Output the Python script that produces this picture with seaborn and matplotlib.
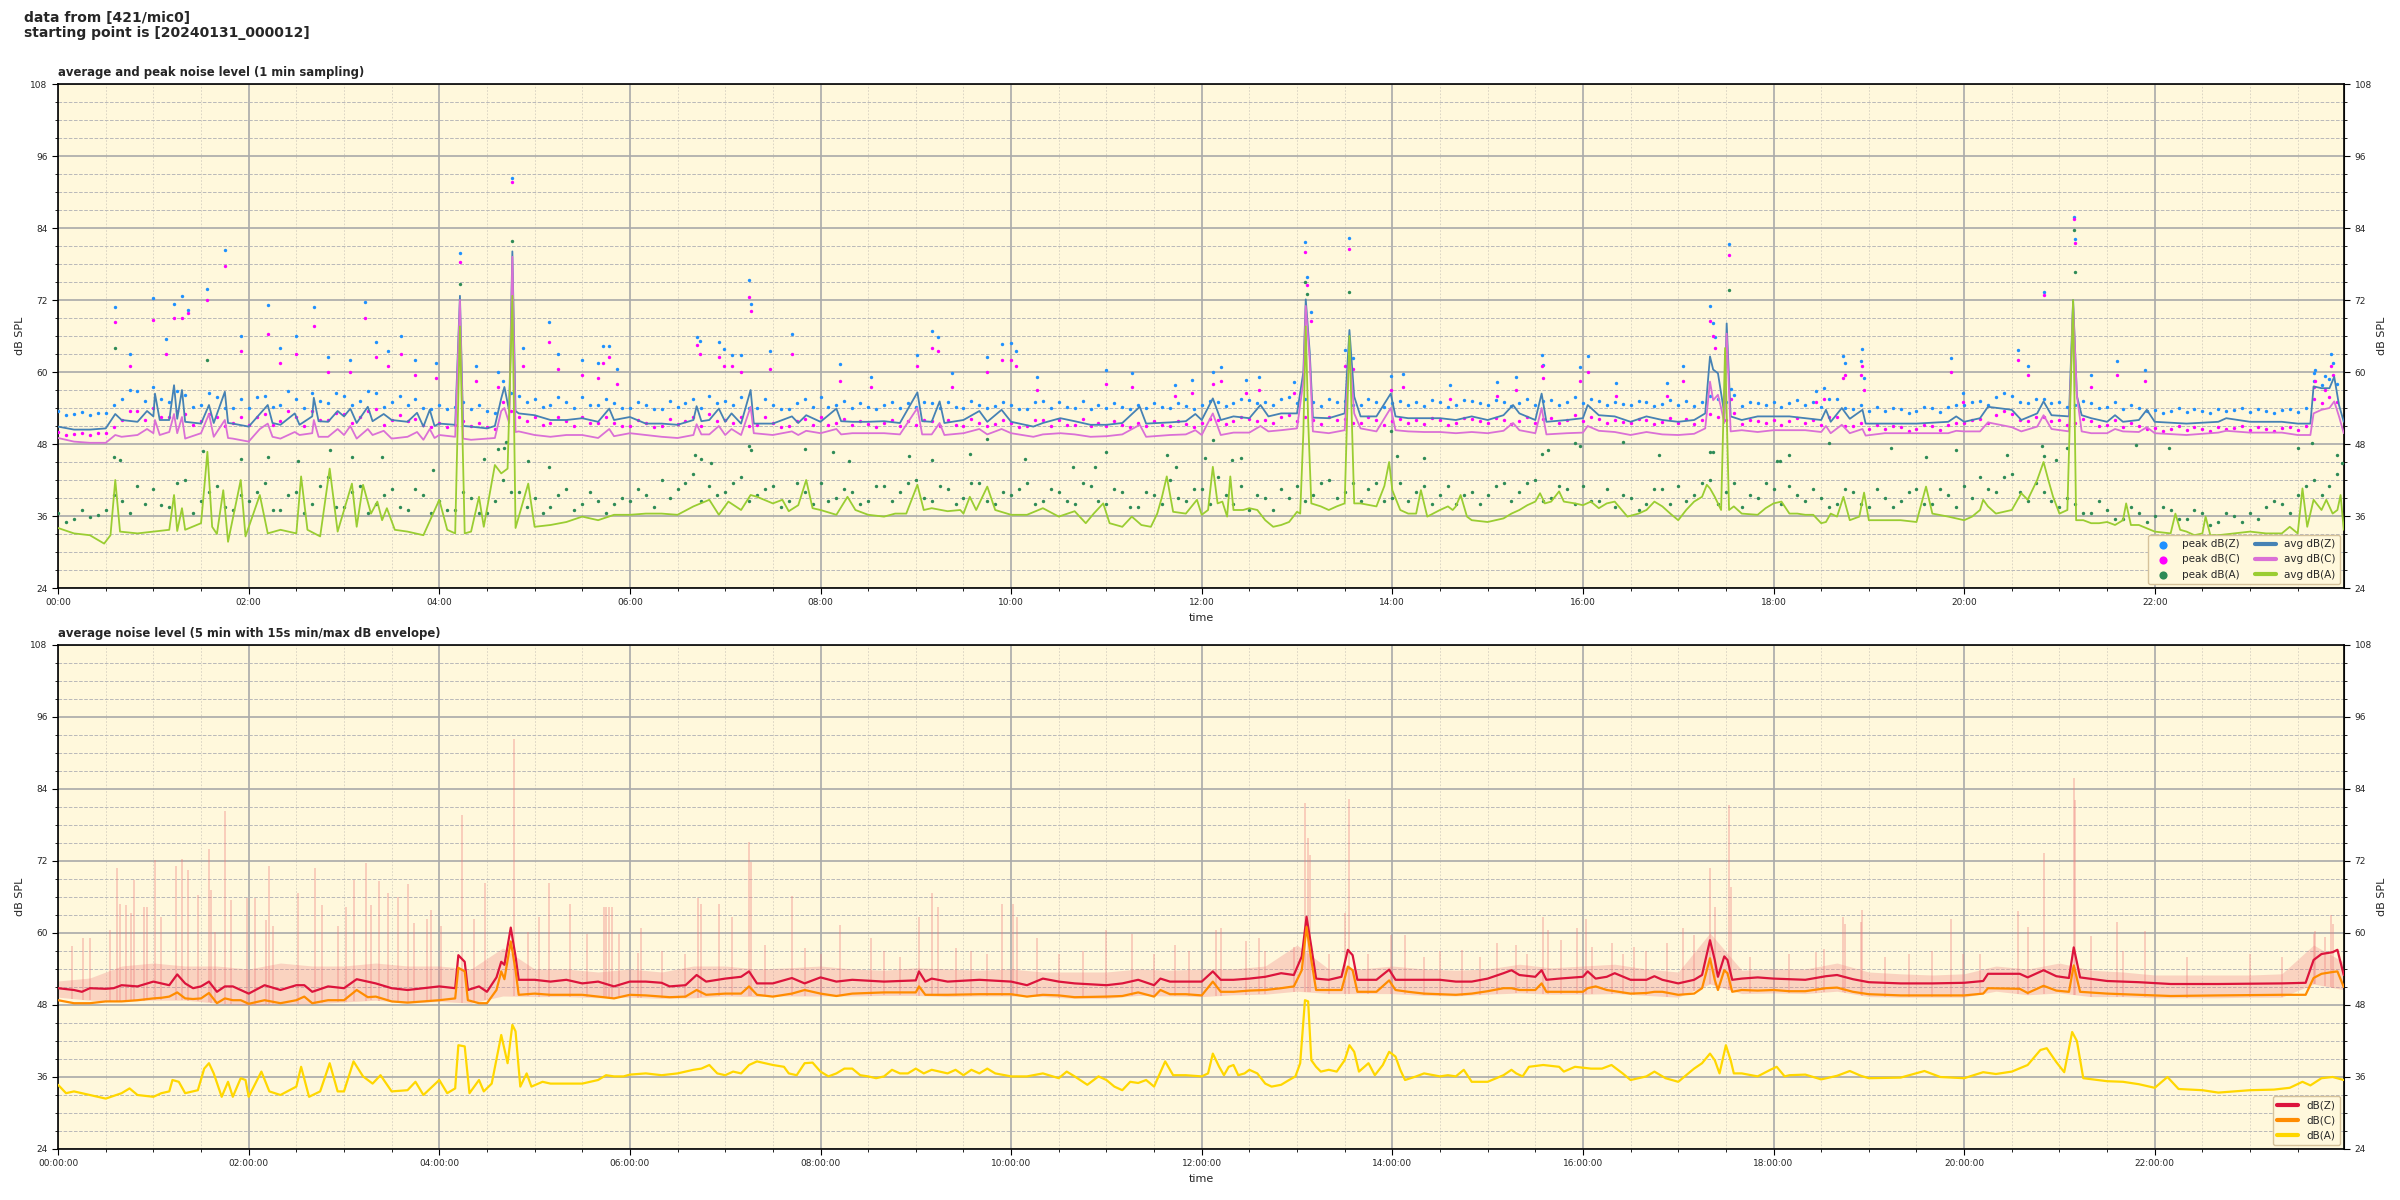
import numpy as np
import seaborn as sns
import matplotlib.pyplot as plt
from matplotlib.ticker import MultipleLocator, FuncFormatter
from matplotlib.lines import Line2D

# ---------------- data: minutes after 00:00, values in dB SPL ----------------
# top panel: 1 min averages (Z and C share a time base)
t_zc = [0, 10, 20, 30, 36, 40, 50, 56, 60, 61,
        64, 70, 73, 75, 78, 80, 90, 95, 98, 105,
        107, 110, 120, 127, 132, 135, 140, 149, 152, 160,
        161, 164, 170, 176, 180, 184, 188, 195, 198, 205,
        210, 220, 226, 230, 234, 237, 240, 250, 253, 255,
        260, 270, 275, 279, 281, 284, 286, 288, 290, 300,
        310, 320, 330, 340, 347, 350, 360, 370, 380, 390,
        400, 402, 405, 410, 416, 420, 424, 430, 436, 438,
        450, 462, 466, 471, 480, 490, 493, 500, 510, 520,
        530, 541, 544, 550, 555, 558, 570, 580, 585, 594,
        600, 614, 620, 631, 640, 650, 660, 670, 681, 685,
        700, 710, 716, 720, 727, 732, 740, 750, 757, 762,
        770, 780, 784, 785.5, 788, 790, 800, 810, 813, 816,
        820, 830, 839, 842, 850, 860, 870, 880, 890, 900,
        910, 916, 920, 930, 934, 937, 950, 960, 963, 970,
        980, 990, 1000, 1010, 1020, 1030, 1037, 1040, 1042, 1045,
        1047, 1049, 1050.5, 1053, 1060, 1070, 1080, 1090, 1100, 1110,
        1113, 1116, 1123, 1128, 1136, 1138, 1150, 1170, 1190, 1195,
        1200, 1210, 1215, 1230, 1236, 1246, 1250, 1255, 1266, 1268.6,
        1271, 1274, 1280, 1290, 1295, 1300, 1310, 1315, 1320, 1340,
        1360, 1365, 1380, 1400, 1410, 1418, 1420, 1425, 1430, 1433,
        1436, 1439]
avg_z = [50.9, 50.4, 50.4, 50.6, 53.0, 52.0, 51.7, 53.5, 52.6, 56.4,
         52.0, 52.0, 57.8, 52.2, 57.0, 51.7, 51.4, 54.5, 51.5, 56.7,
         51.5, 51.4, 50.9, 53.0, 54.5, 51.5, 51.2, 53.1, 51.2, 52.6,
         55.7, 51.8, 51.7, 53.5, 52.6, 53.9, 51.5, 54.2, 51.8, 53.0,
         52.0, 51.7, 53.2, 50.9, 53.7, 51.0, 51.4, 51.2, 72.7, 51.0,
         50.9, 50.6, 51.0, 55.6, 57.5, 53.5, 80.1, 53.5, 53.1, 52.8,
         52.0, 52.0, 52.3, 51.7, 53.9, 52.0, 52.5, 51.4, 51.4, 51.2,
         52.0, 54.3, 51.8, 52.0, 53.9, 51.7, 53.1, 51.4, 57.0, 51.4,
         51.4, 52.6, 51.5, 52.8, 51.7, 53.9, 51.8, 51.7, 51.7, 51.8,
         51.5, 56.6, 51.8, 51.7, 55.1, 51.5, 52.0, 53.5, 51.7, 53.7,
         51.7, 50.9, 51.5, 52.3, 51.8, 51.2, 51.2, 51.5, 54.2, 51.4,
         51.6, 51.8, 53.0, 52.0, 55.6, 52.0, 52.6, 52.3, 54.5, 52.6,
         53.1, 53.1, 60.0, 72.1, 63.3, 52.4, 52.3, 53.1, 67.0, 55.9,
         52.6, 52.6, 56.4, 52.6, 52.3, 52.3, 52.3, 52.0, 52.6, 52.0,
         52.8, 54.5, 53.1, 52.0, 56.4, 51.7, 52.0, 52.3, 54.5, 52.8,
         52.6, 51.7, 52.6, 52.0, 51.7, 52.0, 53.1, 62.6, 60.4, 59.8,
         56.4, 53.1, 68.1, 52.6, 52.0, 52.6, 52.6, 52.6, 52.3, 52.0,
         53.7, 51.7, 54.0, 52.2, 53.7, 51.4, 51.4, 51.4, 51.7, 52.6,
         51.7, 52.3, 54.2, 53.7, 52.0, 53.1, 55.1, 52.8, 52.6, 72.0,
         56.0, 52.8, 52.3, 51.7, 52.8, 51.7, 52.0, 53.7, 51.7, 51.4,
         51.7, 52.3, 51.7, 51.7, 51.4, 51.4, 57.6, 57.3, 57.3, 59.2,
         54.5, 51.7]
avg_c = [49.0, 48.4, 48.2, 48.2, 49.5, 49.2, 49.5, 50.5, 49.8, 52.0,
         49.5, 50.0, 53.0, 49.8, 52.5, 48.9, 49.8, 53.0, 49.2, 52.0,
         49.0, 48.9, 48.4, 50.5, 51.4, 49.2, 48.9, 50.0, 49.5, 49.8,
         52.0, 49.2, 49.2, 50.5, 49.5, 51.0, 48.9, 50.5, 49.5, 50.2,
         48.9, 49.2, 50.0, 48.7, 50.5, 49.0, 49.5, 49.2, 72.0, 48.9,
         48.7, 48.9, 49.0, 53.5, 54.0, 51.5, 79.2, 50.0, 50.1, 49.5,
         49.2, 49.5, 49.5, 49.0, 50.5, 49.3, 49.8, 49.5, 49.2, 49.0,
         49.5, 51.3, 49.6, 49.6, 51.0, 49.5, 50.5, 49.5, 54.2, 49.8,
         49.5, 50.1, 49.5, 50.2, 49.8, 50.5, 49.6, 49.8, 49.8, 49.8,
         49.6, 54.0, 49.6, 49.6, 51.5, 49.5, 49.8, 50.5, 49.6, 50.5,
         49.8, 49.2, 49.6, 49.8, 49.6, 49.2, 49.3, 49.6, 51.2, 49.2,
         49.5, 49.6, 50.3, 49.5, 53.1, 49.5, 49.9, 49.9, 51.0, 50.1,
         50.3, 50.6, 58.5, 71.0, 62.0, 50.1, 49.8, 50.3, 63.5, 53.1,
         50.6, 50.1, 54.0, 50.3, 50.1, 50.0, 50.0, 49.8, 50.0, 49.8,
         50.2, 51.5, 50.3, 49.8, 54.0, 49.6, 49.8, 49.9, 51.0, 50.2,
         50.0, 49.5, 50.0, 49.6, 49.5, 49.7, 50.6, 58.4, 55.3, 56.2,
         54.0, 51.5, 66.4, 50.1, 50.3, 50.0, 50.3, 50.3, 50.3, 50.0,
         51.0, 49.8, 51.2, 49.8, 50.5, 49.4, 49.8, 49.8, 49.8, 50.2,
         50.1, 50.1, 51.6, 50.8, 50.1, 50.9, 52.8, 50.5, 50.1, 71.4,
         56.0, 50.1, 49.8, 49.8, 50.5, 50.1, 50.0, 50.8, 49.8, 49.5,
         49.9, 50.2, 49.9, 49.9, 49.5, 49.5, 53.1, 53.7, 54.0, 55.1,
         52.6, 49.8]

t_a = [0, 10, 20, 29, 33, 36, 39, 50, 60, 70,
       73, 75, 78, 80, 90, 92, 94, 97, 100, 104,
       107, 115, 118, 127, 132, 140, 150, 153, 157, 165,
       171, 176, 185, 188, 192, 197, 201, 204, 207, 212,
       220, 230, 240, 245, 250, 253, 256, 260, 265, 268,
       275, 279, 283, 286, 288, 296, 300, 310, 320, 330,
       340, 350, 360, 370, 380, 390, 400, 410, 416, 422,
       430, 436, 440, 450, 456, 460, 466, 471, 475, 480,
       490, 497, 502, 510, 520, 527, 534, 541, 545, 550,
       560, 568, 570, 574, 578, 585, 590, 600, 610, 620,
       630, 640, 647, 652, 658, 662, 670, 676, 682, 688,
       692, 695, 698, 702, 710, 717, 720, 724, 727, 730,
       733, 736, 738, 740, 746, 750, 755, 760, 765, 770,
       775, 780, 782, 784, 785.5, 787, 789, 795, 800, 805,
       810, 813, 816, 820, 830, 835, 838, 840, 845, 850,
       855, 858, 862, 870, 875, 878, 880, 883, 887, 890,
       900, 910, 915, 920, 925, 930, 933, 936, 940, 945,
       948, 955, 960, 965, 970, 975, 980, 988, 995, 1000,
       1005, 1010, 1015, 1020, 1025, 1030, 1035, 1038, 1040, 1043,
       1047, 1049.5, 1052, 1055, 1060, 1070, 1075, 1080, 1085, 1090,
       1095, 1100, 1105, 1110, 1113, 1116, 1120, 1124, 1128, 1134,
       1137, 1140, 1150, 1160, 1170, 1176, 1180, 1190, 1200, 1205,
       1210, 1212, 1215, 1220, 1230, 1236, 1240, 1246, 1250, 1253,
       1256, 1260, 1265, 1268.6, 1270.5, 1275, 1280, 1285, 1290, 1295,
       1300, 1302, 1305, 1310, 1320, 1330, 1333, 1336, 1340, 1345,
       1350, 1352, 1355, 1360, 1370, 1380, 1390, 1400, 1405, 1410,
       1413, 1416, 1420, 1425, 1428, 1432, 1435, 1437, 1439]
avg_a = [34.0, 33.1, 32.8, 31.4, 32.8, 42.0, 33.4, 33.1, 33.4, 33.7,
         39.5, 33.5, 37.3, 33.7, 34.8, 40.6, 46.7, 34.2, 33.0, 40.3,
         31.7, 42.0, 32.6, 39.5, 33.1, 33.7, 33.1, 42.6, 33.7, 32.6,
         43.9, 33.4, 41.4, 34.2, 41.2, 36.4, 38.4, 35.3, 37.3, 33.7,
         33.4, 32.8, 38.7, 33.7, 33.1, 67.6, 33.1, 33.4, 39.2, 34.2,
         44.5, 43.1, 43.9, 72.7, 34.0, 41.4, 34.2, 34.5, 35.0, 35.9,
         35.3, 36.2, 36.2, 36.4, 36.4, 36.2, 37.6, 38.7, 36.2, 38.4,
         37.0, 39.5, 39.2, 38.1, 38.7, 36.8, 37.8, 42.0, 37.3, 37.0,
         36.2, 39.2, 37.0, 36.2, 35.9, 36.4, 36.4, 41.2, 37.0, 37.3,
         36.8, 37.0, 36.4, 39.2, 37.0, 40.9, 37.0, 36.2, 36.2, 37.3,
         35.9, 36.8, 34.8, 36.4, 38.1, 34.8, 34.2, 35.9, 34.5, 34.2,
         36.4, 39.2, 42.6, 36.7, 36.4, 38.7, 36.2, 37.0, 44.2, 38.1,
         38.4, 35.9, 42.6, 37.0, 37.0, 37.3, 37.0, 35.3, 34.2, 34.5,
         35.0, 36.7, 36.4, 50.0, 67.6, 52.0, 38.1, 37.6, 37.0, 37.6,
         38.1, 66.0, 38.1, 38.1, 37.6, 41.0, 45.0, 40.3, 37.0, 36.4,
         36.4, 40.3, 35.9, 37.0, 37.6, 37.0, 37.6, 39.5, 35.9, 35.3,
         35.0, 35.6, 36.4, 37.0, 37.8, 38.4, 39.8, 38.1, 38.4, 40.1,
         38.4, 38.1, 37.8, 38.4, 37.3, 38.1, 38.4, 35.9, 36.4, 37.0,
         38.4, 37.6, 36.4, 35.3, 37.0, 38.4, 39.2, 41.2, 40.6, 39.2,
         37.0, 64.0, 37.0, 37.6, 36.4, 36.2, 37.3, 38.1, 38.4, 36.4,
         36.4, 36.2, 36.2, 34.8, 35.0, 36.4, 35.9, 39.2, 35.3, 35.9,
         39.9, 35.3, 35.3, 35.3, 35.0, 40.9, 36.4, 35.9, 35.3, 35.9,
         37.0, 38.7, 37.6, 36.4, 37.0, 39.8, 38.7, 42.0, 45.0, 42.0,
         39.2, 36.4, 37.0, 72.0, 35.3, 35.3, 34.8, 34.8, 35.0, 34.5,
         35.3, 38.1, 34.5, 34.5, 33.4, 33.1, 36.4, 33.7, 33.4, 32.8,
         33.1, 35.9, 32.8, 32.8, 33.1, 33.4, 33.1, 33.1, 34.2, 33.1,
         40.6, 34.2, 38.7, 37.0, 38.7, 36.4, 37.0, 39.5, 33.7]

# top panel: 1 min peaks, two readings per 10 min slot
pk_t = list(range(0, 1440, 10))
pk_t2 = list(range(5, 1440, 10))
peak_z = [53.5, 53.0, 52.8, 53.2, 55.5, 56.8,
          57.5, 55.0, 56.2, 54.5, 55.8, 54.0,
          54.0, 56.0, 54.5, 55.5, 56.5, 54.8,
          56.0, 55.2, 56.5, 55.0, 54.5, 54.0,
          54.5, 54.2, 53.8, 53.5, 58.5, 56.0,
          55.5, 54.5, 55.0, 55.8, 54.5, 54.8,
          54.0, 54.5, 53.8, 54.2, 55.5, 56.0,
          55.2, 55.8, 54.0, 54.5, 53.8, 55.5,
          55.8, 54.5, 54.0, 54.2, 54.5, 54.0,
          54.2, 54.8, 55.0, 54.0, 54.5, 54.3,
          54.5, 53.8, 55.2, 55.0, 54.0, 53.8,
          54.0, 54.2, 54.5, 54.8, 54.0, 54.3,
          54.5, 55.0, 54.8, 55.3, 55.0, 55.5,
          54.8, 55.0, 55.5, 55.2, 54.5, 55.0,
          54.8, 54.5, 54.3, 55.0, 54.5, 55.2,
          54.5, 55.0, 54.8, 54.5, 55.3, 55.0,
          54.8, 55.2, 55.0, 54.5, 55.0, 54.6,
          54.5, 54.3, 56.0, 55.0, 54.3, 54.8,
          55.0, 54.8, 54.5, 54.2, 55.5, 53.8,
          53.5, 53.5, 53.8, 53.5, 54.0, 54.2,
          54.5, 55.2, 55.8, 56.0, 54.8, 55.5,
          55.0, 54.5, 54.8, 54.2, 53.8, 54.0,
          53.6, 53.5, 53.4, 53.5, 53.8, 53.6,
          53.3, 53.5, 53.6, 53.4, 58.5, 58.8]
peak_z2 = [52.8, 53.4, 53.2, 54.5, 57.0, 55.2,
           55.5, 56.8, 54.2, 56.5, 54.0, 55.5,
           55.8, 54.2, 56.8, 54.0, 55.2, 56.5,
           54.5, 56.8, 54.2, 56.0, 55.5, 53.8,
           53.8, 55.0, 54.5, 53.2, 56.5, 55.0,
           54.2, 55.8, 54.0, 54.5, 55.5, 54.0,
           55.0, 53.8, 55.2, 54.8, 54.0, 54.8,
           54.5, 54.0, 55.5, 53.8, 54.8, 54.2,
           54.2, 55.2, 54.8, 53.8, 55.0, 54.8,
           55.0, 54.0, 54.2, 55.2, 54.0, 55.0,
           53.8, 55.0, 54.0, 54.2, 55.2, 54.5,
           54.8, 53.8, 54.0, 54.2, 54.8, 53.8,
           55.2, 54.3, 55.5, 54.8, 54.5, 55.8,
           55.5, 54.3, 55.0, 54.5, 55.5, 54.2,
           55.2, 55.0, 55.3, 54.2, 55.3, 54.8,
           55.3, 54.3, 55.5, 55.2, 54.5, 55.8,
           55.5, 54.5, 54.6, 55.2, 54.4, 55.3,
           55.2, 55.0, 55.5, 56.2, 55.0, 54.5,
           54.2, 55.3, 55.0, 55.5, 54.0, 54.5,
           54.2, 54.0, 53.2, 54.2, 53.3, 54.5,
           55.0, 54.5, 56.5, 55.0, 55.5, 54.8,
           54.2, 55.2, 54.0, 55.0, 54.5, 53.5,
           53.2, 54.0, 53.8, 53.2, 53.5, 54.0,
           53.8, 53.2, 53.8, 54.0, 57.8, 58.0]
peak_c = [50.0, 49.6, 49.5, 49.8, 52.0, 53.5,
          54.0, 52.5, 53.0, 51.8, 52.5, 51.5,
          51.2, 53.0, 51.8, 52.5, 53.5, 52.0,
          53.0, 52.5, 53.8, 52.0, 51.8, 51.2,
          51.5, 51.2, 51.0, 50.8, 55.0, 52.5,
          52.5, 51.5, 51.8, 52.5, 51.5, 51.5,
          51.0, 51.5, 51.0, 51.3, 52.5, 53.0,
          52.0, 52.5, 51.2, 51.5, 51.0, 52.2,
          52.5, 51.5, 51.2, 51.3, 51.5, 51.0,
          51.2, 51.8, 52.0, 51.0, 51.5, 51.3,
          51.5, 51.0, 52.0, 52.0, 51.2, 51.0,
          51.0, 51.2, 51.5, 51.8, 51.0, 51.3,
          51.5, 52.0, 51.8, 52.2, 52.0, 52.5,
          51.8, 52.0, 52.5, 52.2, 51.5, 52.0,
          51.8, 51.5, 51.3, 52.0, 51.5, 52.2,
          51.5, 52.0, 51.8, 51.5, 52.3, 52.0,
          51.8, 52.2, 52.0, 51.5, 52.0, 51.6,
          51.5, 51.3, 53.0, 52.0, 51.3, 51.8,
          52.0, 51.8, 51.5, 51.2, 52.5, 51.0,
          50.5, 50.5, 50.8, 50.5, 51.0, 51.2,
          51.5, 52.2, 52.8, 53.0, 51.8, 52.5,
          52.0, 51.5, 51.8, 51.2, 50.8, 51.0,
          50.6, 50.5, 50.4, 50.5, 50.8, 50.6,
          50.3, 50.5, 50.6, 50.4, 55.5, 55.8]
peak_c2 = [49.5, 49.9, 49.8, 50.8, 53.5, 52.0,
           52.5, 53.5, 51.2, 53.0, 51.0, 52.5,
           52.5, 51.2, 53.5, 51.0, 52.0, 53.2,
           51.5, 53.5, 51.2, 52.8, 52.2, 50.8,
           50.8, 51.8, 51.5, 50.5, 53.5, 51.8,
           51.2, 52.5, 51.0, 51.5, 52.5, 51.0,
           52.0, 50.8, 52.2, 51.8, 51.0, 51.8,
           51.5, 51.0, 52.5, 50.8, 51.8, 51.2,
           51.2, 52.2, 51.8, 50.8, 52.0, 51.8,
           52.0, 51.0, 51.2, 52.2, 51.0, 52.0,
           50.8, 52.0, 51.0, 51.2, 52.2, 51.5,
           51.8, 50.8, 51.0, 51.2, 51.8, 50.8,
           52.2, 51.3, 52.5, 51.8, 51.5, 52.8,
           52.5, 51.3, 52.0, 51.5, 52.5, 51.2,
           52.2, 52.0, 52.3, 51.2, 52.3, 51.8,
           52.3, 51.3, 52.5, 52.2, 51.5, 52.8,
           52.5, 51.5, 51.6, 52.2, 51.4, 52.3,
           52.2, 52.0, 52.5, 53.2, 52.0, 51.5,
           51.2, 52.3, 52.0, 52.5, 51.0, 51.5,
           51.2, 51.0, 50.2, 51.2, 50.3, 51.5,
           52.0, 51.5, 53.5, 52.0, 52.5, 51.8,
           51.2, 52.2, 51.0, 52.0, 51.5, 50.5,
           50.2, 51.0, 50.8, 50.2, 50.5, 51.0,
           50.8, 50.2, 50.8, 51.0, 54.8, 55.0]
peak_a = [36.5, 35.5, 35.8, 37.0, 38.5, 41.0,
          40.5, 37.5, 42.0, 38.5, 41.0, 37.0,
          38.5, 41.5, 37.0, 40.0, 38.0, 42.5,
          37.5, 41.0, 38.0, 40.5, 37.0, 39.5,
          38.5, 37.0, 39.0, 36.5, 42.0, 40.0,
          39.0, 37.5, 40.5, 38.0, 38.5, 38.0,
          38.5, 39.5, 42.0, 40.5, 43.0, 41.0,
          40.0, 42.5, 39.5, 41.0, 38.5, 40.0,
          41.5, 39.0, 40.0, 38.5, 41.0, 40.0,
          42.0, 38.5, 40.5, 39.0, 41.5, 38.0,
          39.5, 41.5, 38.5, 40.0, 38.0, 41.0,
          38.0, 40.0, 37.5, 39.5, 42.0, 38.5,
          40.5, 42.5, 38.0, 37.0, 39.0, 40.5,
          41.0, 39.5, 42.0, 40.0, 38.5, 41.5,
          39.0, 38.5, 41.0, 39.5, 38.0, 40.0,
          39.5, 41.5, 40.0, 42.0, 39.0, 40.5,
          41.0, 38.5, 37.5, 39.0, 38.0, 40.5,
          41.0, 39.5, 42.0, 40.0, 37.5, 39.0,
          40.5, 41.0, 38.5, 39.0, 38.0, 40.0,
          37.5, 39.0, 38.5, 40.5, 38.0, 39.5,
          41.0, 42.5, 40.0, 43.0, 38.5, 40.0,
          37.5, 38.0, 36.5, 37.0, 35.5, 36.5,
          36.0, 37.0, 35.5, 36.5, 35.0, 36.0,
          36.5, 37.5, 38.0, 39.5, 42.0, 41.0]
peak_a2 = [35.0, 37.0, 36.2, 39.5, 36.5, 38.0,
           37.8, 41.5, 36.5, 40.0, 37.5, 39.5,
           40.0, 37.0, 39.5, 36.5, 41.0, 37.5,
           40.0, 36.5, 39.5, 37.5, 40.5, 36.5,
           37.0, 40.0, 36.5, 38.5, 40.0, 37.5,
           36.5, 39.5, 37.0, 40.0, 36.5, 39.0,
           40.5, 37.5, 39.0, 41.5, 38.5, 39.5,
           41.5, 38.5, 40.5, 37.5, 41.5, 38.0,
           38.5, 40.5, 38.0, 41.0, 38.5, 41.5,
           39.0, 41.0, 38.0, 41.5, 38.5, 40.0,
           40.5, 38.0, 40.5, 38.5, 41.5, 38.5,
           40.5, 37.5, 40.0, 38.0, 39.0, 40.5,
           38.0, 39.5, 41.0, 39.5, 37.0, 39.0,
           38.5, 41.5, 39.0, 41.5, 40.5, 38.5,
           41.5, 40.0, 38.0, 41.0, 39.5, 38.0,
           41.0, 38.5, 41.5, 38.5, 41.0, 38.0,
           38.5, 40.5, 39.5, 37.0, 40.5, 38.0,
           38.5, 41.5, 38.0, 41.5, 39.5, 41.5,
           38.0, 39.5, 40.5, 37.5, 40.5, 38.0,
           40.5, 37.5, 40.0, 38.0, 40.5, 37.5,
           39.0, 40.5, 42.5, 40.0, 41.5, 38.5,
           39.0, 36.5, 38.5, 35.5, 37.5, 35.0,
           37.5, 35.5, 37.0, 34.5, 36.5, 35.0,
           35.5, 38.5, 36.5, 41.0, 39.5, 43.0]

# top panel: isolated high peaks
t_pk_hi = [36, 45, 60, 68, 73, 78, 82, 94, 105, 115,
           132, 140, 150, 161, 170, 184, 193, 200, 208, 216,
           225, 238, 253, 263, 277, 286, 293, 309, 315, 330,
           340, 343, 347, 352, 402, 404, 416, 419, 424, 430,
           435, 436, 448, 462, 492, 512, 541, 550, 554, 563,
           585, 594, 600, 603, 616, 660, 676, 703, 714, 727,
           732, 748, 756, 778, 785, 786, 789, 810, 813, 815,
           839, 847, 876, 906, 918, 934, 935, 958, 963, 981,
           1013, 1023, 1040, 1042, 1043, 1052, 1053, 1107, 1112, 1124,
           1125, 1135, 1136, 1137, 1192, 1199, 1234, 1240, 1250, 1269,
           1270, 1280, 1296, 1314, 1420, 1421, 1427, 1431, 1432]
pkz_hi = [70.8, 63.0, 72.3, 65.5, 71.3, 72.7, 70.3, 73.9, 80.4, 66.0,
          71.2, 64.0, 66.0, 70.8, 62.5, 62.0, 71.6, 65.0, 63.5, 66.0,
          62.0, 61.5, 79.8, 61.0, 60.0, 92.4, 64.0, 68.3, 63.0, 62.0,
          61.5, 64.3, 64.3, 60.5, 65.9, 65.2, 65.0, 63.8, 62.8, 62.8,
          75.3, 71.3, 63.5, 66.3, 61.3, 59.2, 62.8, 66.8, 65.8, 59.8,
          62.5, 64.7, 64.8, 63.5, 59.2, 60.3, 59.8, 57.8, 58.6, 60.0,
          60.9, 58.7, 59.2, 58.3, 81.6, 75.8, 70.0, 63.6, 82.4, 62.3,
          59.4, 59.6, 57.8, 58.3, 59.2, 62.8, 61.2, 60.8, 62.6, 58.2,
          58.2, 61.0, 71.0, 68.1, 65.9, 81.3, 57.2, 56.9, 57.4, 62.6,
          61.5, 61.8, 63.8, 59.0, 62.4, 56.5, 63.7, 61.0, 73.3, 85.9,
          82.2, 59.5, 61.8, 60.3, 59.8, 60.3, 59.3, 63.0, 61.5]
pkc_hi = [68.3, 61.0, 68.7, 63.0, 69.0, 69.0, 69.8, 72.0, 77.6, 63.5,
          66.3, 61.5, 63.0, 67.6, 60.0, 60.0, 69.0, 62.5, 61.0, 63.0,
          59.5, 59.0, 78.4, 58.5, 57.5, 91.7, 61.0, 65.0, 60.5, 59.5,
          59.0, 61.5, 62.5, 58.0, 64.5, 63.0, 62.5, 61.0, 61.0, 60.0,
          72.5, 70.2, 60.5, 63.0, 58.5, 57.5, 61.0, 64.0, 63.5, 57.5,
          60.0, 62.0, 62.0, 61.0, 57.0, 58.0, 57.5, 56.0, 56.5, 58.0,
          58.5, 56.5, 57.0, 56.5, 80.0, 74.5, 68.5, 61.0, 80.5, 60.5,
          57.0, 57.5, 55.5, 56.0, 57.0, 61.0, 59.0, 58.5, 60.0, 56.0,
          56.0, 58.5, 68.5, 66.0, 64.0, 79.5, 55.5, 55.0, 55.5, 59.0,
          59.5, 59.5, 61.0, 57.0, 60.0, 55.0, 62.0, 59.5, 72.9, 85.5,
          81.5, 57.5, 59.5, 58.5, 57.5, 58.5, 57.0, 61.0, 59.5]
t_pka_hi = [35, 36, 39, 91, 94, 115, 132, 151, 171, 185,
            204, 236, 253, 268, 277, 281, 282, 286, 296, 309,
            401, 405, 411, 435, 436, 470, 488, 498, 536, 550,
            574, 585, 609, 639, 653, 660, 698, 704, 722, 727,
            739, 745, 785, 786, 813, 839, 843, 860, 934, 938,
            955, 958, 985, 1008, 1040, 1042, 1052, 1084, 1082, 1090,
            1115, 1154, 1176, 1195, 1227, 1249, 1250, 1258, 1265, 1269,
            1270, 1308, 1329, 1410, 1419, 1435, 1438]
pka_hi = [45.9, 64.0, 45.3, 46.8, 62.0, 45.5, 45.9, 45.1, 47.0, 45.9,
          45.9, 43.7, 74.7, 45.5, 47.1, 47.4, 48.4, 81.9, 45.1, 44.2,
          46.2, 45.5, 44.8, 47.7, 47.0, 47.1, 46.7, 45.1, 46.0, 45.3,
          46.4, 48.8, 45.5, 44.1, 44.2, 46.7, 46.2, 44.2, 45.6, 48.7,
          45.3, 45.6, 75.0, 73.0, 73.3, 50.1, 46.0, 45.6, 46.3, 47.0,
          48.1, 47.6, 48.4, 46.2, 46.7, 46.7, 73.7, 45.1, 45.1, 46.2,
          48.1, 47.3, 45.9, 47.0, 46.2, 47.6, 46.0, 45.4, 47.3, 83.7,
          76.7, 47.8, 47.3, 47.3, 48.1, 46.2, 44.8]

# bottom panel: 5 min averages
t_bzc = [0, 10, 15, 20, 30, 35, 40, 50, 60, 65,
         70, 75, 80, 85, 90, 95, 100, 105, 110, 115,
         120, 130, 140, 150, 155, 160, 170, 180, 188, 195,
         200, 210, 220, 230, 240, 250, 252, 256, 258, 265,
         270, 276, 279, 281, 285, 288, 290, 300, 310, 320,
         330, 340, 350, 360, 370, 380, 385, 395, 402, 408,
         420, 430, 435, 440, 450, 462, 470, 480, 490, 500,
         520, 540, 542, 546, 550, 560, 580, 600, 610, 620,
         630, 640, 660, 670, 680, 690, 694, 700, 710, 720,
         727, 732, 740, 750, 760, 770, 778, 783, 786, 789,
         792, 800, 808, 812, 815, 818, 830, 838, 842, 850,
         860, 870, 880, 890, 900, 910, 915, 920, 930, 934,
         937, 945, 960, 963, 968, 975, 980, 990, 1000, 1005,
         1010, 1020, 1030, 1035, 1040, 1043, 1045, 1049, 1051, 1054,
         1060, 1070, 1080, 1090, 1100, 1113, 1120, 1130, 1140, 1160,
         1180, 1200, 1212, 1215, 1235, 1240, 1250, 1258, 1266, 1269,
         1273, 1290, 1310, 1330, 1360, 1400, 1415, 1420, 1425, 1432,
         1435, 1439]
db_z = [50.8, 50.5, 50.2, 50.8, 50.7, 50.8, 51.3, 51.1, 51.9, 51.6,
        51.3, 53.1, 51.6, 50.8, 51.1, 51.9, 50.2, 51.1, 51.1, 50.5,
        49.9, 51.3, 50.5, 51.3, 51.3, 50.2, 51.1, 50.8, 52.3, 51.9,
        51.6, 50.8, 50.5, 50.8, 51.1, 50.8, 56.3, 55.2, 50.5, 51.1,
        50.2, 52.6, 55.2, 54.7, 60.9, 56.1, 52.2, 52.2, 51.9, 52.2,
        51.6, 51.9, 51.1, 51.9, 51.9, 51.7, 51.1, 51.3, 53.0, 51.9,
        52.4, 52.7, 53.6, 51.6, 51.6, 52.5, 51.6, 52.6, 51.9, 52.2,
        51.9, 52.1, 53.6, 51.9, 52.4, 51.9, 52.2, 51.9, 51.3, 52.4,
        51.9, 51.6, 51.3, 51.6, 52.2, 51.3, 52.4, 51.9, 51.9, 51.9,
        53.6, 52.2, 52.2, 52.4, 52.7, 53.3, 53.0, 56.1, 62.7, 57.7,
        52.4, 52.2, 52.7, 57.2, 56.3, 52.2, 52.2, 53.9, 52.2, 52.2,
        52.2, 52.2, 51.9, 51.9, 52.4, 53.3, 53.8, 53.0, 52.7, 53.8,
        52.2, 52.4, 52.7, 53.6, 52.4, 52.7, 53.3, 52.2, 52.2, 52.8,
        52.2, 51.6, 52.2, 53.0, 58.8, 55.5, 52.7, 56.1, 55.5, 52.2,
        52.4, 52.6, 52.4, 52.3, 52.2, 52.8, 53.0, 52.3, 51.8, 51.6,
        51.6, 51.7, 52.0, 53.2, 53.2, 52.6, 53.8, 52.8, 52.5, 57.6,
        52.6, 52.0, 51.8, 51.5, 51.5, 51.6, 51.7, 55.5, 56.5, 56.8,
        57.2, 53.0]
db_c = [48.8, 48.3, 48.3, 48.3, 48.6, 48.6, 48.6, 48.8, 49.1, 49.2,
        49.4, 50.1, 49.1, 49.0, 49.1, 50.0, 48.3, 49.1, 48.8, 48.8,
        48.2, 48.8, 48.3, 48.8, 49.4, 48.3, 48.8, 48.8, 50.5, 49.3,
        49.4, 48.6, 48.4, 48.6, 48.8, 49.1, 54.2, 53.6, 48.8, 48.3,
        48.3, 50.5, 53.6, 52.3, 58.6, 53.8, 49.7, 49.9, 49.7, 49.7,
        49.7, 49.4, 49.1, 49.7, 49.6, 49.4, 49.3, 49.4, 50.5, 49.7,
        49.9, 49.9, 51.1, 49.7, 49.4, 49.9, 50.5, 49.9, 49.5, 49.9,
        50.1, 50.1, 51.1, 49.7, 49.7, 49.7, 49.8, 49.8, 49.4, 49.7,
        49.6, 49.3, 49.4, 49.5, 50.1, 49.4, 50.5, 49.8, 49.8, 49.6,
        51.9, 50.2, 50.2, 50.4, 50.5, 50.8, 51.1, 53.8, 61.0, 55.5,
        50.5, 50.5, 50.5, 54.4, 53.8, 50.2, 50.2, 52.1, 50.5, 50.2,
        49.9, 49.8, 49.7, 49.9, 50.3, 50.8, 50.8, 50.5, 50.5, 51.6,
        50.2, 50.2, 50.2, 50.8, 51.1, 50.5, 50.3, 49.9, 50.0, 50.2,
        50.2, 49.7, 49.9, 50.8, 55.8, 52.2, 50.5, 53.8, 53.3, 50.2,
        50.5, 50.4, 50.5, 50.3, 50.3, 50.8, 50.9, 50.2, 49.8, 49.6,
        49.6, 49.6, 49.9, 50.8, 50.7, 50.0, 51.2, 50.4, 50.2, 54.6,
        50.2, 49.9, 49.7, 49.5, 49.6, 49.7, 49.7, 52.5, 53.2, 53.5,
        53.6, 51.0]

t_ba = [0, 5, 10, 20, 30, 40, 45, 50, 60, 65,
        70, 72, 76, 80, 88, 92, 95, 98, 103, 107,
        110, 115, 118, 120, 128, 133, 140, 150, 153, 158,
        165, 171, 176, 180, 186, 192, 198, 203, 210, 220,
        225, 230, 240, 245, 250, 252, 256, 259, 265, 268,
        273, 279, 283, 286, 288, 291, 295, 298, 305, 310,
        320, 330, 340, 345, 350, 356, 360, 370, 380, 390,
        400, 405, 410, 415, 420, 425, 430, 435, 440, 450,
        457, 460, 465, 470, 475, 480, 485, 490, 495, 500,
        505, 510, 515, 520, 525, 530, 535, 540, 545, 550,
        560, 565, 570, 575, 580, 585, 590, 600, 610, 620,
        630, 635, 640, 648, 655, 660, 665, 670, 675, 680,
        685, 690, 697, 702, 710, 720, 724, 727, 731, 734,
        737, 740, 743, 747, 750, 755, 760, 764, 770, 775,
        779, 782, 785, 787, 789, 792, 795, 800, 805, 810,
        813, 816, 819, 825, 829, 834, 838, 842, 845, 848,
        855, 860, 870, 875, 880, 885, 890, 900, 910, 915,
        918, 922, 926, 935, 945, 948, 955, 965, 972, 978,
        985, 990, 1000, 1005, 1012, 1020, 1030, 1035, 1040, 1043,
        1046, 1050, 1053, 1055, 1060, 1070, 1078, 1082, 1087, 1090,
        1100, 1110, 1120, 1128, 1135, 1140, 1160, 1175, 1185, 1200,
        1212, 1220, 1230, 1240, 1248, 1252, 1258, 1263, 1268, 1271,
        1275, 1290, 1300, 1310, 1320, 1328, 1335, 1350, 1360, 1380,
        1395, 1405, 1413, 1418, 1425, 1432, 1439]
db_a = [34.7, 33.3, 33.6, 33.0, 32.4, 33.3, 34.1, 33.0, 32.7, 33.3,
        33.6, 35.5, 35.2, 33.3, 33.8, 37.4, 38.3, 36.6, 32.7, 35.2,
        32.7, 35.8, 35.5, 32.7, 36.9, 33.6, 33.0, 34.4, 37.7, 32.7,
        33.6, 38.3, 33.6, 33.6, 38.6, 36.1, 34.9, 36.3, 33.6, 33.8,
        35.2, 33.0, 35.5, 33.3, 34.1, 41.3, 41.1, 33.3, 35.5, 33.6,
        34.9, 43.0, 38.3, 44.7, 43.6, 34.4, 36.6, 34.4, 35.2, 34.9,
        34.9, 34.9, 35.5, 36.3, 36.1, 36.1, 36.4, 36.6, 36.3, 36.6,
        37.2, 37.4, 38.0, 36.6, 36.3, 36.9, 36.6, 38.0, 38.6, 38.0,
        37.7, 36.6, 36.3, 38.3, 38.4, 36.9, 36.1, 36.6, 37.4, 37.4,
        36.3, 36.1, 35.8, 36.1, 37.2, 36.6, 36.6, 37.4, 36.6, 37.2,
        36.6, 37.2, 36.3, 37.2, 36.6, 37.4, 36.6, 36.1, 36.1, 36.6,
        35.8, 36.9, 36.1, 34.7, 36.1, 35.5, 34.4, 33.8, 35.2, 35.0,
        35.5, 34.4, 38.6, 36.3, 36.3, 36.1, 36.6, 39.9, 37.7, 36.3,
        37.7, 38.0, 36.3, 36.6, 37.2, 36.6, 34.9, 34.4, 34.7, 35.5,
        36.1, 38.3, 48.8, 48.6, 38.8, 37.7, 36.9, 37.2, 36.9, 38.8,
        41.3, 40.2, 36.9, 38.3, 36.3, 38.0, 40.2, 39.4, 37.2, 35.5,
        36.1, 36.6, 36.1, 36.3, 36.1, 37.2, 35.2, 35.2, 36.3, 37.2,
        36.6, 36.1, 37.7, 38.0, 37.7, 36.9, 37.7, 37.4, 37.4, 38.0,
        36.6, 35.5, 36.1, 36.9, 35.8, 35.2, 37.4, 38.3, 39.9, 38.8,
        36.6, 41.3, 38.8, 36.6, 36.6, 36.1, 37.2, 37.7, 36.1, 36.3,
        36.4, 35.6, 36.2, 37.0, 36.2, 35.8, 35.9, 37.0, 36.0, 35.8,
        36.8, 36.5, 36.9, 38.0, 40.5, 40.8, 38.5, 36.8, 43.5, 42.0,
        35.8, 35.3, 35.2, 34.8, 34.2, 36.0, 34.0, 33.8, 33.4, 33.8,
        33.9, 34.2, 35.2, 34.6, 35.8, 36.0, 35.5]

# bottom panel: 15 s min/max envelope (band every 20 min + isolated max spikes)
env_t = list(range(0, 1441, 20))
env_lo = [49.3, 48.8, 48.6, 48.8, 48.8, 48.3, 48.0, 48.2, 48.2,
          48.5, 48.8, 48.3, 48.6, 48.3, 49.5, 49.4, 49.4, 49.2,
          49.3, 49.1, 49.2, 49.5, 49.4, 49.5, 49.5, 49.5, 49.6,
          49.6, 49.4, 49.5, 49.5, 49.4, 49.1, 49.1, 49.6, 49.5,
          49.4, 49.7, 49.8, 50.3, 49.9, 49.9, 49.9, 49.6, 49.5,
          49.8, 50.0, 49.8, 49.8, 49.9, 49.6, 49.3, 51.5, 49.9,
          50.0, 49.9, 50.3, 49.4, 49.3, 49.3, 49.3, 50.3, 49.7,
          50.0, 49.4, 49.4, 49.2, 49.2, 49.2, 49.3, 49.3, 51.5,
          50.5]
env_hi = [52.0, 52.5, 54.5, 55.0, 54.5, 54.5, 54.0, 55.0, 54.5,
          54.5, 55.0, 54.5, 54.5, 54.0, 57.5, 54.0, 54.0, 53.5,
          54.0, 53.5, 54.5, 54.5, 54.0, 54.2, 54.5, 54.0, 53.8,
          54.2, 54.0, 53.8, 54.0, 53.5, 53.5, 53.5, 54.0, 53.8,
          54.0, 54.0, 54.5, 58.0, 54.0, 54.0, 54.5, 54.0, 53.8,
          54.0, 54.8, 54.2, 54.5, 54.8, 54.0, 53.5, 60.0, 53.8,
          54.0, 54.0, 55.0, 53.5, 53.2, 53.0, 53.2, 54.5, 54.0,
          55.0, 53.8, 53.5, 53.0, 53.0, 53.0, 53.0, 53.2, 58.0,
          55.0]
spk_t = [9, 16, 20, 33, 37, 39, 43, 46, 48, 54,
         56, 61, 65, 74, 78, 82, 88, 95, 96, 99,
         105, 109, 119, 124, 131, 133, 135, 151, 162, 166,
         176, 181, 186, 194, 197, 202, 208, 214, 220, 224,
         232, 235, 241, 254, 262, 269, 287, 296, 303, 309,
         322, 333, 345, 349, 353, 365, 344, 347, 367, 403,
         405, 416, 424, 435, 436, 462, 492, 512, 542, 550,
         554, 594, 601, 604, 616, 660, 676, 703, 729, 732,
         748, 756, 778, 785, 786.6, 788, 810, 813, 839, 848,
         884, 906, 918, 935, 938, 946, 956, 962, 966, 978,
         992, 1013, 1023, 1030, 1040, 1043, 1052, 1053, 1107, 1112,
         1124, 1125, 1135, 1136, 1192, 1199, 1234, 1240, 1250, 1269,
         1270, 1280, 1296, 1314, 1420, 1421, 1427, 1431, 1432, 380,
         395, 445, 470, 480, 520, 530, 565, 575, 585, 630,
         645, 690, 712, 760, 800, 825, 860, 870, 895, 925,
         985, 1000, 1065, 1090, 1150, 1165, 1180, 1210, 1300, 1340,
         1380, 1400]
spk_v = [57.8, 59.2, 59.2, 60.5, 70.8, 64.9, 64.7, 63.3, 68.9, 64.4,
         64.4, 72.2, 62.7, 71.2, 72.4, 70.5, 66.4, 74.0, 67.1, 60.2,
         80.4, 65.5, 65.9, 65.9, 62.2, 71.1, 61.1, 66.6, 70.8, 64.7,
         61.2, 64.4, 68.8, 71.6, 64.7, 68.6, 66.6, 66.0, 68.1, 61.6,
         62.4, 63.8, 61.1, 79.7, 62.4, 68.3, 92.4, 60.2, 62.7, 68.3,
         64.9, 59.9, 64.4, 64.4, 59.9, 56.6, 64.4, 64.4, 60.8, 65.8,
         64.9, 64.9, 62.7, 75.2, 71.9, 66.2, 61.3, 59.1, 62.7, 66.6,
         64.4, 64.9, 64.9, 62.7, 59.1, 60.5, 59.9, 58.0, 60.5, 60.8,
         58.6, 59.1, 57.7, 81.6, 75.8, 73.0, 63.3, 82.4, 59.6, 59.6,
         57.2, 58.3, 58.0, 62.7, 60.5, 58.8, 60.8, 62.4, 57.7, 58.3,
         57.7, 58.3, 60.8, 59.6, 70.9, 64.4, 81.3, 67.7, 56.9, 57.4,
         62.6, 61.5, 61.8, 63.8, 62.4, 56.5, 63.7, 61.0, 73.3, 85.9,
         82.2, 59.5, 61.8, 60.3, 59.8, 60.3, 59.3, 63.0, 61.5, 57.0,
         56.5, 58.0, 57.5, 56.5, 57.0, 56.0, 57.5, 57.0, 56.5, 56.5,
         57.0, 56.5, 57.0, 57.0, 56.5, 56.5, 56.0, 57.0, 56.0, 56.5,
         56.5, 57.0, 56.0, 56.5, 56.0, 56.5, 57.0, 56.5, 57.0, 56.0,
         56.5, 56.0]


def hrs(m):
    return np.asarray(m, dtype=float) / 60.0


sns.set_style("ticks")
plt.rcParams['font.family'] = ['DejaVu Sans']

BG = 'cornsilk'


def style_axes(ax, xfmt, title):
    ax.set_facecolor(BG)
    ax.set_xlim(0, 1439.2 / 60)
    ax.set_ylim(24, 108)
    ax.xaxis.set_major_locator(MultipleLocator(2))
    ax.xaxis.set_minor_locator(MultipleLocator(0.5))
    ax.xaxis.set_major_formatter(FuncFormatter(lambda v, p: xfmt % int(round(v))))
    ax.yaxis.set_major_locator(MultipleLocator(12))
    ax.yaxis.set_minor_locator(MultipleLocator(3))
    ax.grid(which='major', color='#a9a9a9', lw=1.2)
    ax.yaxis.grid(which='minor', color='#b9b9b9', ls='--', lw=0.7)
    ax.xaxis.grid(which='minor', color='#d6d0c0', ls=(0, (2, 2)), lw=0.6)
    ax.set_axisbelow(True)
    ax.tick_params(which='both', labelsize=6.5, direction='out', color='black')
    ax.tick_params(which='major', length=4)
    ax.tick_params(which='minor', length=2.5)
    for s in ax.spines.values():
        s.set_color('black')
        s.set_linewidth(1.2)
    ax.set_xlabel('time', fontsize=8)
    ax.set_ylabel('dB SPL', fontsize=8)
    ax.set_title(title, loc='left', fontsize=8.4, fontweight='bold', pad=6)
    sec = ax.secondary_yaxis('right')
    sec.yaxis.set_major_locator(MultipleLocator(12))
    sec.yaxis.set_minor_locator(MultipleLocator(3))
    sec.tick_params(which='both', labelsize=6.5, color='black')
    sec.tick_params(which='major', length=4)
    sec.tick_params(which='minor', length=2.5)
    sec.set_ylabel('dB SPL', fontsize=8)


fig = plt.figure(figsize=(24, 12), dpi=100)
fig.text(0.01, 0.991, "data from [421/mic0]\nstarting point is [20240131_000012]",
         ha='left', va='top', fontsize=10, fontweight='bold', linespacing=1.1)

ax1 = fig.add_axes([0.0242, 0.51, 0.9525, 0.42])
ax2 = fig.add_axes([0.0242, 0.0425, 0.9525, 0.42])

# ---------------- top panel ----------------
peaks = [
    ('peak dB(Z)', pk_t + pk_t2 + t_pk_hi, peak_z + peak_z2 + pkz_hi, '#1e90ff'),
    ('peak dB(C)', pk_t + pk_t2 + t_pk_hi, peak_c + peak_c2 + pkc_hi, '#ff00ff'),
    ('peak dB(A)', pk_t + pk_t2 + t_pka_hi, peak_a + peak_a2 + pka_hi, '#2e8b57'),
]
for lab, tt, vv, col in peaks:
    sns.scatterplot(x=hrs(tt), y=vv, ax=ax1, color=col, s=6, marker='o',
                    linewidth=0, label=lab, zorder=3)

avgs = [
    ('avg dB(Z)', t_zc, avg_z, '#4682b4'),
    ('avg dB(C)', t_zc, avg_c, '#da70d6'),
    ('avg dB(A)', t_a, avg_a, '#9acd32'),
]
for lab, tt, vv, col in avgs:
    sns.lineplot(x=hrs(tt), y=vv, ax=ax1, color=col, lw=1.3, label=lab,
                 errorbar=None, zorder=4)

style_axes(ax1, '%02d:00', 'average and peak noise level (1 min sampling)')
h, l = ax1.get_legend_handles_labels()
leg = ax1.legend(h, l, loc='lower right', ncol=2, fontsize=7.5, markerscale=2.4,
                 facecolor=BG, edgecolor='#d6c29a', framealpha=1,
                 borderaxespad=0.4, columnspacing=1.5)
for hd in leg.legend_handles:
    if isinstance(hd, Line2D):
        hd.set_linewidth(3)

# ---------------- bottom panel ----------------
ax2.fill_between(hrs(env_t), env_lo, env_hi, color='lightcoral', alpha=0.3,
                 lw=0, zorder=2)
ax2.vlines(hrs(spk_t), np.interp(spk_t, env_t, env_lo), spk_v,
           color='lightcoral', alpha=0.42, lw=1.2, zorder=2)

lines5 = [
    ('dB(Z)', t_bzc, db_z, '#dc143c'),
    ('dB(C)', t_bzc, db_c, '#ff8c00'),
    ('dB(A)', t_ba, db_a, '#ffd700'),
]
for lab, tt, vv, col in lines5:
    sns.lineplot(x=hrs(tt), y=vv, ax=ax2, color=col, lw=1.6, label=lab,
                 errorbar=None, zorder=4)

style_axes(ax2, '%02d:00:00', 'average noise level (5 min with 15s min/max dB envelope)')
leg2 = ax2.legend(loc='lower right', fontsize=7.5, facecolor=BG,
                  edgecolor='#d6c29a', framealpha=1, borderaxespad=0.4)
for hd in leg2.legend_handles:
    hd.set_linewidth(3)

fig.savefig('out.png', dpi=100)
